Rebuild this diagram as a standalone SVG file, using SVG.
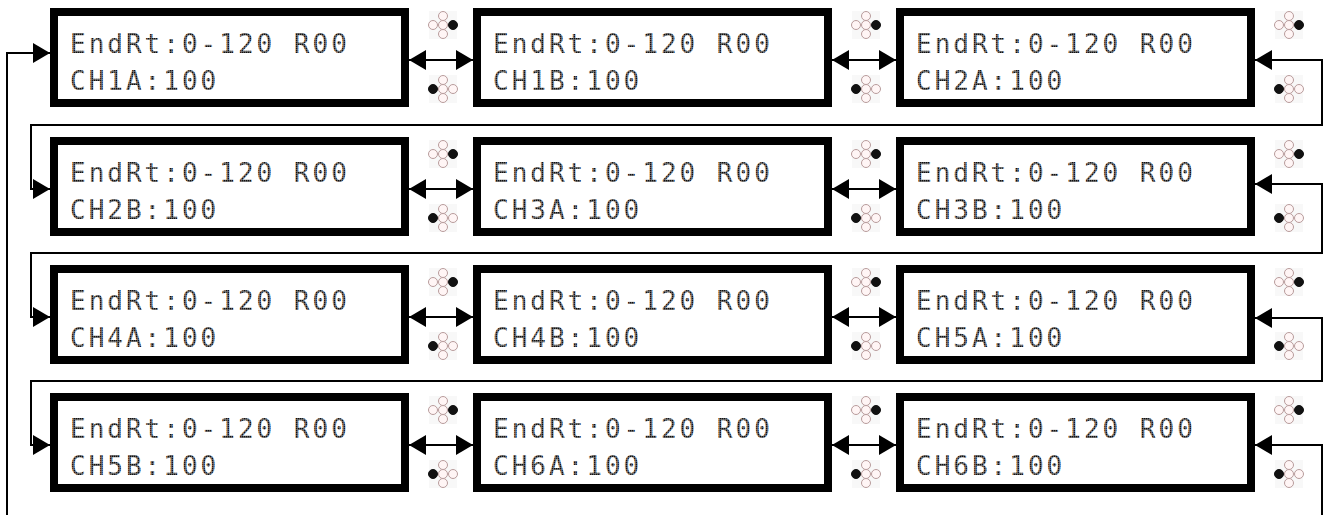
<svg xmlns="http://www.w3.org/2000/svg" xmlns:xlink="http://www.w3.org/1999/xlink" width="1325" height="515" viewBox="0 0 1325 515">
<style>
.box{fill:#fff;stroke:#000;stroke-width:8}
.lcd{font-family:"DejaVu Sans Mono","Liberation Mono",monospace;font-size:26px;letter-spacing:3px;fill:url(#dots)}
.wire{fill:none;stroke:#000;stroke-width:2}
.dbl{marker-start:url(#ah);marker-end:url(#ah)}
.oc{fill:#fff5f5;stroke:#b89c9c;stroke-width:1}
.fc{fill:#111;stroke:#111;stroke-width:1}
.ibg{fill:#f8f8f8}
</style>
<defs>
<pattern id="dots" patternUnits="userSpaceOnUse" width="2" height="2">
<rect x="0" y="0" width="2" height="2" fill="#8a8a8a"/>
<rect x="0" y="0" width="1.4" height="1.4" fill="#111"/>
</pattern>
<marker id="ah" viewBox="0 0 17 20" refX="17" refY="10" markerWidth="17" markerHeight="20" markerUnits="userSpaceOnUse" orient="auto-start-reverse">
<path d="M0,0 L17,10 L0,20 Z" fill="#000"/>
</marker>
<g id="iconR">
<rect class="ibg" x="-14" y="-14" width="28" height="28"/>
<circle class="oc" cx="0" cy="-9" r="4.5"/>
<circle class="oc" cx="-10" cy="0" r="4.5"/>
<circle class="oc" cx="0" cy="0" r="4.5"/>
<circle class="fc" cx="10" cy="0" r="4.5"/>
<circle class="oc" cx="0" cy="9" r="4.5"/>
</g>
<g id="iconL">
<rect class="ibg" x="-14" y="-14" width="28" height="28"/>
<circle class="oc" cx="0" cy="-9" r="4.5"/>
<circle class="fc" cx="-10" cy="0" r="4.5"/>
<circle class="oc" cx="0" cy="0" r="4.5"/>
<circle class="oc" cx="10" cy="0" r="4.5"/>
<circle class="oc" cx="0" cy="9" r="4.5"/>
</g>
</defs>

<g id="connectors">
<path class="wire" d="M7,515 V53 H50" marker-end="url(#ah)"/>
<line class="wire dbl" x1="409" y1="60" x2="473" y2="60"/>
<line class="wire dbl" x1="832" y1="60" x2="896" y2="60"/>
<path class="wire dbl" d="M1255,60 H1322 V125 H31 V189 H50"/>
<line class="wire dbl" x1="409" y1="189" x2="473" y2="189"/>
<line class="wire dbl" x1="832" y1="189" x2="896" y2="189"/>
<path class="wire dbl" d="M1255,184 H1322 V253 H31 V317 H50"/>
<line class="wire dbl" x1="409" y1="317" x2="473" y2="317"/>
<line class="wire dbl" x1="832" y1="317" x2="896" y2="317"/>
<path class="wire dbl" d="M1255,318 H1322 V381 H31 V445 H50"/>
<line class="wire dbl" x1="409" y1="445" x2="473" y2="445"/>
<line class="wire dbl" x1="832" y1="445" x2="896" y2="445"/>
<path class="wire" d="M1322,515 V445 H1255" marker-end="url(#ah)"/>
</g>

<g id="n-ch1a">
<rect class="box" x="54" y="12" width="351" height="91"/>
<text class="lcd" x="70" y="53">EndRt:0-120 R00</text>
<text class="lcd" x="70" y="90">CH1A:100</text>
<use xlink:href="#iconR" x="443" y="25"/><use xlink:href="#iconL" x="443" y="89"/>
</g>
<g id="n-ch1b">
<rect class="box" x="477" y="12" width="351" height="91"/>
<text class="lcd" x="493" y="53">EndRt:0-120 R00</text>
<text class="lcd" x="493" y="90">CH1B:100</text>
<use xlink:href="#iconR" x="866" y="25"/><use xlink:href="#iconL" x="866" y="89"/>
</g>
<g id="n-ch2a">
<rect class="box" x="900" y="12" width="351" height="91"/>
<text class="lcd" x="916" y="53">EndRt:0-120 R00</text>
<text class="lcd" x="916" y="90">CH2A:100</text>
<use xlink:href="#iconR" x="1289" y="25"/><use xlink:href="#iconL" x="1289" y="89"/>
</g>

<g id="n-ch2b">
<rect class="box" x="54" y="141" width="351" height="91"/>
<text class="lcd" x="70" y="182">EndRt:0-120 R00</text>
<text class="lcd" x="70" y="219">CH2B:100</text>
<use xlink:href="#iconR" x="443" y="154"/><use xlink:href="#iconL" x="443" y="218"/>
</g>
<g id="n-ch3a">
<rect class="box" x="477" y="141" width="351" height="91"/>
<text class="lcd" x="493" y="182">EndRt:0-120 R00</text>
<text class="lcd" x="493" y="219">CH3A:100</text>
<use xlink:href="#iconR" x="866" y="154"/><use xlink:href="#iconL" x="866" y="218"/>
</g>
<g id="n-ch3b">
<rect class="box" x="900" y="141" width="351" height="91"/>
<text class="lcd" x="916" y="182">EndRt:0-120 R00</text>
<text class="lcd" x="916" y="219">CH3B:100</text>
<use xlink:href="#iconR" x="1289" y="154"/><use xlink:href="#iconL" x="1289" y="218"/>
</g>

<g id="n-ch4a">
<rect class="box" x="54" y="269" width="351" height="91"/>
<text class="lcd" x="70" y="310">EndRt:0-120 R00</text>
<text class="lcd" x="70" y="347">CH4A:100</text>
<use xlink:href="#iconR" x="443" y="282"/><use xlink:href="#iconL" x="443" y="346"/>
</g>
<g id="n-ch4b">
<rect class="box" x="477" y="269" width="351" height="91"/>
<text class="lcd" x="493" y="310">EndRt:0-120 R00</text>
<text class="lcd" x="493" y="347">CH4B:100</text>
<use xlink:href="#iconR" x="866" y="282"/><use xlink:href="#iconL" x="866" y="346"/>
</g>
<g id="n-ch5a">
<rect class="box" x="900" y="269" width="351" height="91"/>
<text class="lcd" x="916" y="310">EndRt:0-120 R00</text>
<text class="lcd" x="916" y="347">CH5A:100</text>
<use xlink:href="#iconR" x="1289" y="282"/><use xlink:href="#iconL" x="1289" y="346"/>
</g>

<g id="n-ch5b">
<rect class="box" x="54" y="397" width="351" height="91"/>
<text class="lcd" x="70" y="438">EndRt:0-120 R00</text>
<text class="lcd" x="70" y="475">CH5B:100</text>
<use xlink:href="#iconR" x="443" y="410"/><use xlink:href="#iconL" x="443" y="474"/>
</g>
<g id="n-ch6a">
<rect class="box" x="477" y="397" width="351" height="91"/>
<text class="lcd" x="493" y="438">EndRt:0-120 R00</text>
<text class="lcd" x="493" y="475">CH6A:100</text>
<use xlink:href="#iconR" x="866" y="410"/><use xlink:href="#iconL" x="866" y="474"/>
</g>
<g id="n-ch6b">
<rect class="box" x="900" y="397" width="351" height="91"/>
<text class="lcd" x="916" y="438">EndRt:0-120 R00</text>
<text class="lcd" x="916" y="475">CH6B:100</text>
<use xlink:href="#iconR" x="1289" y="410"/><use xlink:href="#iconL" x="1289" y="474"/>
</g>
</svg>
